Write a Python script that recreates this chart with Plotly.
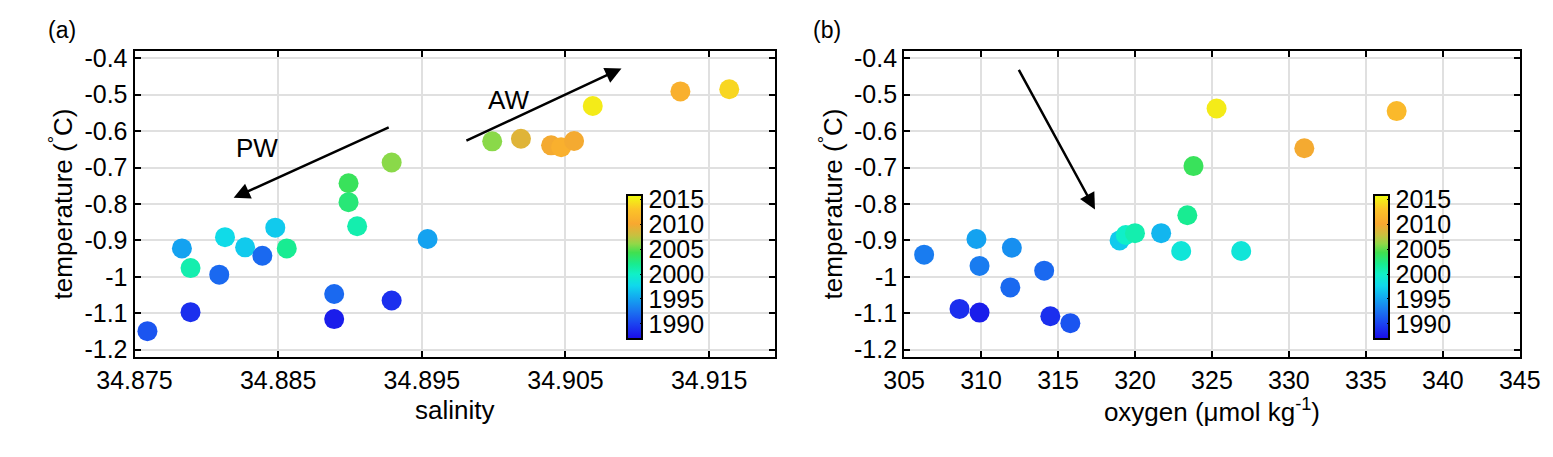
import plotly.graph_objects as go

sal = [34.8759,34.8783,34.8789,34.8789,34.8809,34.8813,34.8827,34.8839,34.8848,34.8856,34.8889,34.8889,34.8899,34.8899,34.8905,34.8929,34.8929,34.8954,34.8999,34.9019,34.9040,34.9047,34.9056,34.9069,34.9130,34.9164]
temp_a = [-1.149,-0.922,-0.976,-1.097,-0.994,-0.891,-0.919,-0.942,-0.865,-0.922,-1.047,-1.116,-0.743,-0.795,-0.861,-1.065,-0.686,-0.896,-0.628,-0.621,-0.639,-0.644,-0.627,-0.531,-0.491,-0.485]
year_a = [1991,1995,2001,1989,1992,1998,1997,1992,1997,2002,1992,1988,2004,2003,2001,1989,2006,1995,2006,2009,2010,2011,2010,2015,2011,2014]

oxy = [306.3,309.7,309.9,312.0,314.1,311.9,308.6,309.9,314.5,315.8,319.0,319.4,320.0,321.7,323.0,323.4,323.8,325.3,331.0,326.9,337.0]
temp_b = [-0.939,-0.896,-0.970,-0.920,-0.983,-1.029,-1.088,-1.098,-1.108,-1.127,-0.900,-0.885,-0.880,-0.880,-0.929,-0.831,-0.696,-0.538,-0.647,-0.929,-0.545]
year_b = [1993,1995,1993,1994,1992,1992,1989,1988,1989,1991,1997,2000,2001,1996,1999,2002,2004,2015,2010,1999,2012]

cb_ticks = [1990,1995,2000,2005,2010,2015]
y_ticks = [-1.2,-1.1,-1.0,-0.9,-0.8,-0.7,-0.6,-0.5,-0.4]
y_labels = ["-1.2","-1.1","-1","-0.9","-0.8","-0.7","-0.6","-0.5","-0.4"]
xa_ticks = [34.875,34.885,34.895,34.905,34.915]
xb_ticks = [305,310,315,320,325,330,335,340,345]

cmap = [[0,"#1a0ae8"],[0.1,"#1b40f0"],[0.2,"#1a78f0"],[0.3,"#12b0f0"],[0.37,"#10d8ec"],
        [0.45,"#10f0c8"],[0.52,"#18ec90"],[0.6,"#40e050"],[0.66,"#90d848"],[0.72,"#c8c040"],
        [0.8,"#f8a830"],[0.9,"#fcc428"],[1,"#f0ff10"]]
CMIN, CMAX = 1987, 2016
F = "Liberation Sans, Arial, sans-serif"

fig = go.Figure()
fig.add_trace(go.Scatter(x=sal, y=temp_a, mode="markers", xaxis="x", yaxis="y",
    marker=dict(size=20, color=year_a, coloraxis="coloraxis"), showlegend=False))
fig.add_trace(go.Scatter(x=oxy, y=temp_b, mode="markers", xaxis="x2", yaxis="y2",
    marker=dict(size=20, color=year_b, coloraxis="coloraxis2"), showlegend=False))

def cbar(x):
    return dict(colorscale=cmap, cmin=CMIN, cmax=CMAX,
        colorbar=dict(x=x, xanchor="left", y=0.271, yanchor="bottom", len=0.324, lenmode="fraction",
                      thickness=15, thicknessmode="pixels", outlinecolor="black", outlinewidth=2,
                      tickvals=cb_ticks, ticks="inside", ticklen=3, tickcolor="black",
                      tickfont=dict(size=25, family=F, color="black"), xpad=0, ypad=0))

ax = dict(showline=True, linecolor="black", linewidth=2, mirror="ticks", ticks="inside",
          ticklen=6, tickwidth=2, tickcolor="black", showgrid=True, gridcolor="#e0e0e0",
          gridwidth=2, zeroline=False, tickfont=dict(size=25, family=F, color="black"))

fig.update_layout(
    width=1553, height=457, margin=dict(l=0, r=0, t=0, b=0),
    plot_bgcolor="white", paper_bgcolor="white", font=dict(family=F, color="black"),
    coloraxis=cbar(604/1553), coloraxis2=cbar(1380/1553),
    xaxis=dict(ax, domain=[92/1553, 758/1553], range=[34.875, 34.9196], tickvals=xa_ticks,
               ticktext=[f"{v:.3f}" for v in xa_ticks],
               title=dict(text="salinity", font=dict(size=26, family=F), standoff=8)),
    yaxis=dict(ax, domain=[0.2297, 0.919], range=[-1.22, -0.38], tickvals=y_ticks, ticktext=y_labels,
               title=dict(text="temperature (<sup>°</sup>C)", font=dict(size=26, family=F), standoff=4)),
    xaxis2=dict(ax, anchor="y2", domain=[892/1553, 1532/1553], range=[305, 345], tickvals=xb_ticks,
                title=dict(text="oxygen (μmol kg<sup>-1</sup>)", font=dict(size=26, family=F), standoff=8)),
    yaxis2=dict(ax, anchor="x2", domain=[0.2297, 0.919], range=[-1.22, -0.38], tickvals=y_ticks, ticktext=y_labels,
                title=dict(text="temperature (<sup>°</sup>C)", font=dict(size=26, family=F), standoff=4)),
)

def arrow(xref, yref, x0, y0, x1, y1):
    fig.add_annotation(x=x1, y=y1, ax=x0, ay=y0, xref=xref, yref=yref, axref=xref, ayref=yref,
                       showarrow=True, arrowhead=2, arrowsize=1.3, arrowwidth=2.5, arrowcolor="black", text="")

arrow("x", "y", 34.8928, -0.588, 34.8819, -0.783)
arrow("x", "y", 34.898, -0.628, 34.9089, -0.428)
arrow("x2", "y2", 312.4, -0.428, 317.4, -0.815)
fig.add_annotation(x=34.8835, y=-0.647, xref="x", yref="y", text="PW", showarrow=False,
                   font=dict(size=26, family=F))
fig.add_annotation(x=34.901, y=-0.515, xref="x", yref="y", text="AW", showarrow=False,
                   font=dict(size=26, family=F))
fig.add_annotation(x=0.0, y=1.0, xref="paper", yref="paper", xanchor="left", yanchor="top",
                   text="(a)", showarrow=False, font=dict(size=23, family=F))
fig.add_annotation(x=795/1553, y=1.0, xref="paper", yref="paper", xanchor="left", yanchor="top",
                   text="(b)", showarrow=False, font=dict(size=23, family=F))

fig.write_html("out.html")
